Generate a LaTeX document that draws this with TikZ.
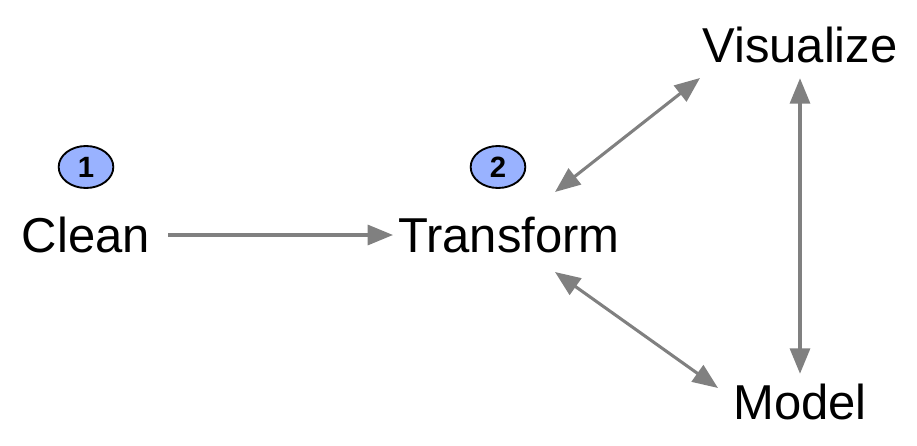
\documentclass[tikz,border=0pt]{standalone}
\usepackage{fontspec}
\setmainfont{Liberation Sans}
\usetikzlibrary{arrows.meta,shapes.geometric,calc}
\definecolor{arrgray}{RGB}{128,128,128}
\definecolor{badge}{RGB}{153,178,255}
\tikzset{
  lbl/.style={inner sep=0pt, font=\fontsize{36.75}{40}\selectfont},
  badgenode/.style={ellipse, draw=black, line width=1.4pt, fill=badge,
    minimum width=41pt, minimum height=31.5pt, inner sep=0pt},
  badgetxt/.style={font=\bfseries\fontsize{22}{24}\selectfont},
  conn/.style={draw=arrgray, line width=2.3pt,
    -{Triangle[length=19pt,width=15pt]}},
  biconn/.style={draw=arrgray, line width=2.3pt,
    {Triangle[length=19pt,width=15pt]}-{Triangle[length=19pt,width=15pt]}}
}
\begin{document}
\begin{tikzpicture}[x=0.75pt,y=-0.75pt]
\useasboundingbox (0,0) rectangle (917,446);
\node[lbl] (clean) at (86,235) {Clean};
\node[lbl] (trans) at (509,235) {Transform};
\node[lbl] (vis) at (800,45) {Visualize};
\node[lbl] (model) at (800,402) {Model};
\node[badgenode] (b1) at (86,167) {};
\node[badgetxt] (n1) at (b1) {1};
\node[badgenode] (b2) at (498,167) {};
\node[badgetxt] (n2) at (b2) {2};
\draw[conn] ($(clean.east)+(13.5pt,0)$) -- ($(trans.west)+(-3.75pt,0)$);
\draw[biconn] ($(trans)+(34.5pt,32.25pt)$) -- ($(vis)+(-75pt,-24.75pt)$);
\draw[biconn] ($(trans)+(34.5pt,-27.75pt)$) -- ($(model)+(-61.5pt,10.5pt)$);
\draw[biconn] ($(vis.south)+(0,-11.25pt)$) -- ($(model.north)+(0,7.5pt)$);
\end{tikzpicture}
\end{document}
